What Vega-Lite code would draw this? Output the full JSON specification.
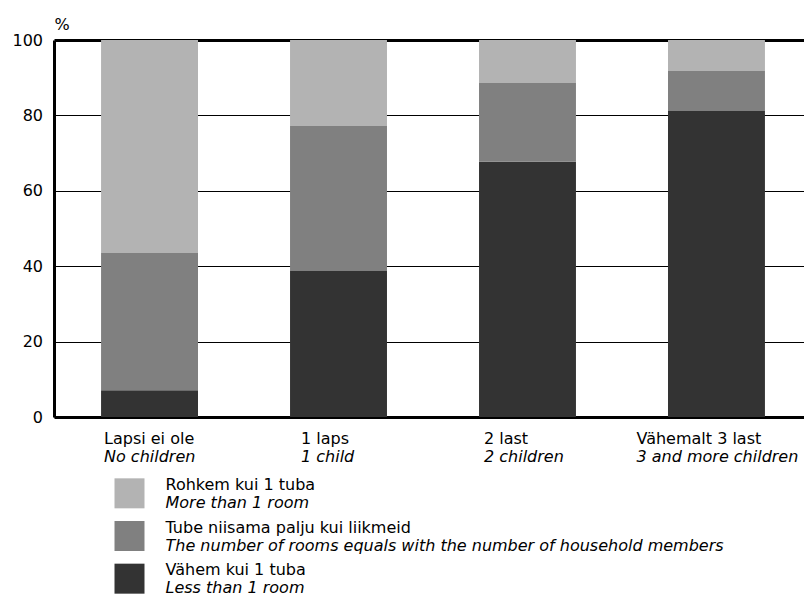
{
  "$schema": "https://vega.github.io/schema/vega-lite/v6.json",
  "padding": {"left": 11, "top": 16, "right": 0, "bottom": 0},
  "bounds": "flush",
  "spacing": 55,
  "config": {
    "font": "DejaVu Sans",
    "view": {"stroke": null},
    "axis": {"labelFont": "DejaVu Sans", "labelFontSize": 16, "titleFont": "DejaVu Sans", "titleFontSize": 16, "titleFontWeight": "normal", "labelColor": "#000", "titleColor": "#000"}
  },
  "datasets": {
    "bars": [
      {"group": "Lapsi ei ole|No children", "cat": "Vähem kui 1 tuba", "k": 1, "value": 7.1},
      {"group": "Lapsi ei ole|No children", "cat": "Tube niisama palju kui liikmeid", "k": 2, "value": 36.4},
      {"group": "Lapsi ei ole|No children", "cat": "Rohkem kui 1 tuba", "k": 3, "value": 56.5},
      {"group": "1 laps|1 child", "cat": "Vähem kui 1 tuba", "k": 1, "value": 38.7},
      {"group": "1 laps|1 child", "cat": "Tube niisama palju kui liikmeid", "k": 2, "value": 38.5},
      {"group": "1 laps|1 child", "cat": "Rohkem kui 1 tuba", "k": 3, "value": 22.8},
      {"group": "2 last|2 children", "cat": "Vähem kui 1 tuba", "k": 1, "value": 67.7},
      {"group": "2 last|2 children", "cat": "Tube niisama palju kui liikmeid", "k": 2, "value": 20.9},
      {"group": "2 last|2 children", "cat": "Rohkem kui 1 tuba", "k": 3, "value": 11.4},
      {"group": "Vähemalt 3 last|3 and more children", "cat": "Vähem kui 1 tuba", "k": 1, "value": 81.2},
      {"group": "Vähemalt 3 last|3 and more children", "cat": "Tube niisama palju kui liikmeid", "k": 2, "value": 10.6},
      {"group": "Vähemalt 3 last|3 and more children", "cat": "Rohkem kui 1 tuba", "k": 3, "value": 8.2}
    ],
    "legend": [
      {"cat": "Rohkem kui 1 tuba", "eng": "More than 1 room"},
      {"cat": "Tube niisama palju kui liikmeid", "eng": "The number of rooms equals with the number of household members"},
      {"cat": "Vähem kui 1 tuba", "eng": "Less than 1 room"}
    ]
  },
  "vconcat": [
    {
      "width": 758,
      "height": 377,
      "data": {"name": "bars"},
      "layer": [
        {
          "mark": {"type": "bar", "opacity": 1},
          "encoding": {
            "x": {
              "field": "group", "type": "nominal", "sort": null,
              "scale": {"paddingInner": 0.487, "paddingOuter": 0.249},
              "axis": {
                "orient": "bottom", "title": null, "domain": true, "domainColor": "#000", "domainWidth": 3,
                "ticks": false, "tickSize": 0, "grid": false, "labelAngle": 0, "labelAlign": "left",
                "labelBaseline": "alphabetic", "labelPadding": 26.5, "labelLimit": 400, "labelOverlap": false,
                "labelExpr": "split(datum.label, '|')[0]",
                "labelOffset": {
                  "condition": [
                    {"test": "datum.value === '1 laps|1 child'", "value": -37.5},
                    {"test": "datum.value === '2 last|2 children'", "value": -43.5},
                    {"test": "datum.value === 'Vähemalt 3 last|3 and more children'", "value": -80}
                  ],
                  "value": -45.5
                }
              }
            },
            "y": {
              "field": "value", "type": "quantitative", "stack": "zero",
              "scale": {"domain": [0, 100], "nice": false},
              "axis": {
                "title": "%", "titleAngle": 0, "titleAlign": "left", "titleBaseline": "alphabetic",
                "titleX": 0, "titleY": -10.5,
                "values": [0, 20, 40, 60, 80, 100], "ticks": false, "tickSize": 0, "labelPadding": 11.5,
                "domainColor": "#000", "domainWidth": 3,
                "grid": true, "gridColor": "#000", "gridOpacity": 1,
                "gridWidth": {"condition": {"test": "datum.value === 100", "value": 3}, "value": 1}
              }
            },
            "color": {
              "field": "cat", "type": "nominal",
              "scale": {"domain": ["Rohkem kui 1 tuba", "Tube niisama palju kui liikmeid", "Vähem kui 1 tuba"], "range": ["#b3b3b3", "#808080", "#333333"]},
              "legend": null
            },
            "order": {"field": "k", "type": "quantitative"}
          }
        },
        {
          "mark": {"type": "point", "opacity": 0},
          "encoding": {
            "x": {
              "field": "group", "type": "nominal", "sort": null,
              "axis": {
                "orient": "bottom", "title": null, "domain": false, "ticks": false, "tickSize": 0, "grid": false,
                "labelAngle": 0, "labelAlign": "left", "labelBaseline": "alphabetic", "labelPadding": 44.5,
                "labelFontStyle": "italic", "labelLimit": 400, "labelOverlap": false,
                "labelExpr": "split(datum.label, '|')[1]",
                "labelOffset": {
                  "condition": [
                    {"test": "datum.value === '1 laps|1 child'", "value": -37.5},
                    {"test": "datum.value === '2 last|2 children'", "value": -43.5},
                    {"test": "datum.value === 'Vähemalt 3 last|3 and more children'", "value": -80}
                  ],
                  "value": -45.5
                }
              }
            }
          }
        }
      ],
      "resolve": {"axis": {"x": "independent"}}
    },
    {
      "width": 151,
      "height": 128,
      "data": {"name": "legend"},
      "encoding": {
        "y": {"field": "cat", "type": "nominal", "sort": null, "axis": null, "scale": {"type": "point", "padding": 0.5}}
      },
      "layer": [
        {
          "mark": {"type": "square", "size": 900, "opacity": 1, "filled": true, "strokeWidth": 0},
          "encoding": {
            "color": {"field": "cat", "type": "nominal", "legend": null}
          }
        },
        {
          "mark": {"type": "text", "align": "left", "baseline": "alphabetic", "dx": 36, "dy": -3.5, "fontSize": 16, "font": "DejaVu Sans", "color": "#000"},
          "encoding": {"text": {"field": "cat"}}
        },
        {
          "mark": {"type": "text", "align": "left", "baseline": "alphabetic", "dx": 36, "dy": 14.5, "fontSize": 16, "font": "DejaVu Sans", "fontStyle": "italic", "color": "#000"},
          "encoding": {"text": {"field": "eng"}}
        }
      ]
    }
  ]
}
